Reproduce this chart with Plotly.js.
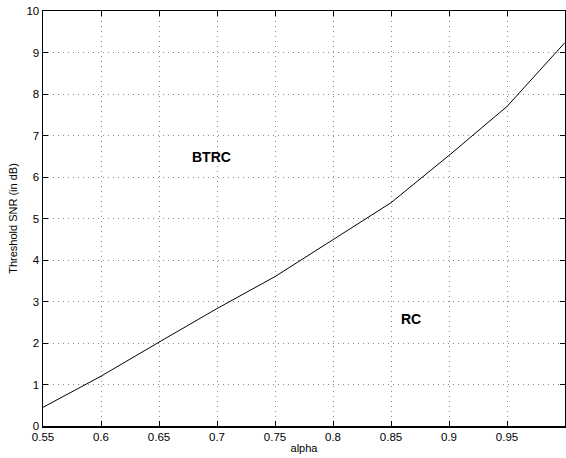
<!DOCTYPE html>
<html>
<head>
<meta charset="utf-8">
<script src="https://cdn.plot.ly/plotly-3.0.1.min.js"></script>
<style>html,body{margin:0;padding:0;background:#fff;}#chart{width:566px;height:458px;}</style>
</head>
<body>
<div id="chart"></div>
<script>
const alphaValues = [0.55, 0.6, 0.65, 0.7, 0.75, 0.8, 0.85, 0.9, 0.95, 1.0];
const thresholdSNR = [0.45, 1.2, 2.02, 2.83, 3.6, 4.5, 5.38, 6.52, 7.7, 9.24];
const xTicks = [0.55, 0.6, 0.65, 0.7, 0.75, 0.8, 0.85, 0.9, 0.95, 1];
const xTickLabels = ['0.55', '0.6', '0.65', '0.7', '0.75', '0.8', '0.85', '0.9', '0.95', '1'];
const yTicks = [0, 1, 2, 3, 4, 5, 6, 7, 8, 9, 10];
const regionLabels = ['BTRC', 'RC'];
const regionX = [0.695, 0.867];
const regionY = [6.48, 2.58];

const font = 'Liberation Sans, Arial, Helvetica, sans-serif';

const trace = {
  x: alphaValues,
  y: thresholdSNR,
  mode: 'lines',
  line: {color: '#000', width: 1},
  hoverinfo: 'skip'
};

const axisCommon = {
  showline: true,
  linecolor: '#000',
  linewidth: 1.5,
  mirror: 'ticks',
  ticks: 'inside',
  ticklen: 5,
  tickcolor: '#000',
  showgrid: true,
  gridcolor: '#8a8a8a',
  griddash: '1px,4px',
  gridwidth: 1,
  zeroline: false,
  tickfont: {family: font, size: 11.5, color: '#000'}
};

const layout = {
  width: 566,
  height: 458,
  margin: {l: 43, r: 1, t: 11, b: 32},
  paper_bgcolor: '#fff',
  plot_bgcolor: '#fff',
  showlegend: false,
  xaxis: Object.assign({}, axisCommon, {
    range: [0.55, 1.0],
    tickvals: xTicks,
    ticktext: xTickLabels,
    title: {text: 'alpha', font: {family: font, size: 11, color: '#000'}, standoff: 2}
  }),
  yaxis: Object.assign({}, axisCommon, {
    range: [0, 10],
    tickvals: yTicks,
    title: {text: 'Threshold SNR (in dB)', font: {family: font, size: 11, color: '#000'}, standoff: 6}
  }),
  annotations: regionLabels.map((t, i) => ({
    x: regionX[i], y: regionY[i], xref: 'x', yref: 'y',
    text: '<b>' + t + '</b>', showarrow: false,
    font: {family: font, size: 14, color: '#000'}
  }))
};

Plotly.newPlot('chart', [trace], layout, {displayModeBar: false, staticPlot: true});
</script>
</body>
</html>
